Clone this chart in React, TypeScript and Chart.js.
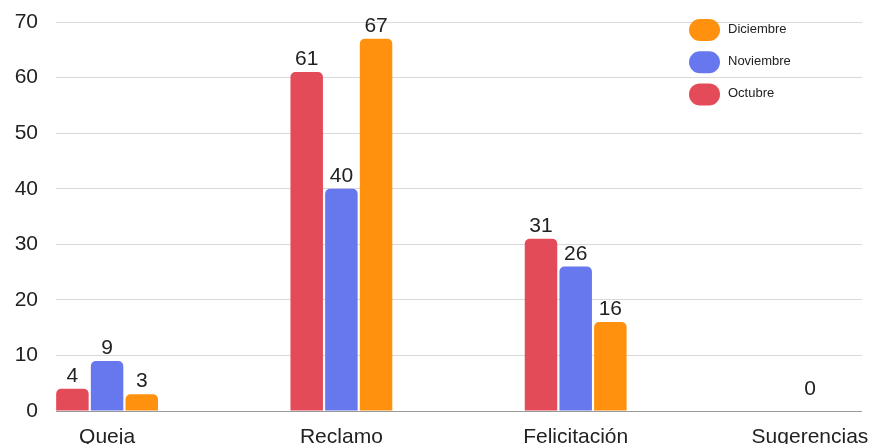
import React, { useEffect, useRef } from "react";
import { Chart, registerables } from "chart.js";

Chart.register(...registerables);

const categories = ["Queja", "Reclamo", "Felicitación", "Sugerencias"];
const seriesNames = ["Octubre", "Noviembre", "Diciembre"];
const octubre: (number | null)[] = [4, 61, 31, null];
const noviembre: (number | null)[] = [9, 40, 26, 0];
const diciembre: (number | null)[] = [3, 67, 16, null];
const seriesColors = ["#E44B58", "#6777EE", "#FF910E"];
const yMin = 0;
const yMax = 70;
const yStep = 10;

const FONT = "'Liberation Sans', Arial, sans-serif";

const valueLabels = {
  id: "valueLabels",
  afterDatasetsDraw(chart: any) {
    const ctx = chart.ctx;
    ctx.save();
    ctx.font = `21px ${FONT}`;
    ctx.fillStyle = "#222222";
    ctx.textAlign = "center";
    ctx.textBaseline = "alphabetic";
    chart.data.datasets.forEach((ds: any, di: number) => {
      const meta = chart.getDatasetMeta(di);
      meta.data.forEach((el: any, i: number) => {
        const raw = ds.data[i];
        if (!raw || raw.y === null || raw.y === undefined) return;
        const gap = raw.y === 0 ? 16 : 7;
        ctx.fillText(String(raw.y), el.x, el.y - gap);
      });
    });
    ctx.restore();
  },
};

const cornerLegend = {
  id: "cornerLegend",
  afterDraw(chart: any) {
    const ctx = chart.ctx;
    const ds = chart.data.datasets.slice().reverse();
    const x0 = chart.chartArea.right - 173;
    const y0 = chart.chartArea.top + 8;
    ctx.save();
    ctx.font = `13px ${FONT}`;
    ctx.textAlign = "left";
    ctx.textBaseline = "middle";
    ds.forEach((d: any, i: number) => {
      const cy = y0 + i * 32.2;
      ctx.fillStyle = d.backgroundColor;
      ctx.beginPath();
      (ctx as any).roundRect(x0, cy - 11, 31, 22, 11);
      ctx.fill();
      ctx.fillStyle = "#222222";
      ctx.fillText(d.label, x0 + 39, cy - 1);
    });
    ctx.restore();
  },
};

export default function App() {
  const ref = useRef<HTMLCanvasElement | null>(null);

  useEffect(() => {
    document.body.style.margin = "0";
    if (!ref.current) return;
    const seriesData = [octubre, noviembre, diciembre];
    const chart = new Chart(ref.current, {
      type: "bar",
      data: {
        datasets: seriesData.map((vals, si) => ({
          label: seriesNames[si],
          data: vals.map((v, i) => ({ x: i, y: v })) as any,
          backgroundColor: seriesColors[si],
          borderWidth: 0,
          borderRadius: { topLeft: 5, topRight: 5, bottomLeft: 0, bottomRight: 0 },
          borderSkipped: "start",
          categoryPercentage: 0.444,
          barPercentage: 0.937,
        })),
      },
      options: {
        animation: false,
        responsive: false,
        layout: { padding: { top: 22, right: 15, left: 0, bottom: 0 } },
        plugins: {
          legend: { display: false },
          tooltip: { enabled: false },
        },
        scales: {
          x: {
            type: "linear",
            offset: false,
            min: -0.218,
            max: 3.222,
            grid: { display: false, drawTicks: false, offset: false },
            border: { display: false },
            afterBuildTicks: (scale: any) => {
              scale.ticks = categories.map((_, i) => ({ value: i }));
            },
            afterFit: (scale: any) => {
              scale.height = 33;
              scale.paddingLeft = 0;
              scale.paddingRight = 0;
            },
            ticks: {
              autoSkip: false,
              maxRotation: 0,
              minRotation: 0,
              padding: 14,
              color: "#222222",
              font: { family: FONT, size: 21 },
              callback: (v: any) => categories[Math.round(Number(v))] ?? "",
            },
          },
          y: {
            min: yMin,
            max: yMax,
            grid: {
              drawTicks: false,
              color: (c: any) => (c.tick && c.tick.value === 0 ? "#9a9a9a" : "#d9d9d9"),
              lineWidth: 1,
            },
            border: { display: false },
            afterFit: (scale: any) => {
              scale.width = 56;
              scale.paddingTop = 0;
              scale.paddingBottom = 0;
            },
            ticks: {
              stepSize: yStep,
              padding: 18,
              color: "#222222",
              font: { family: FONT, size: 21 },
            },
          },
        },
      },
      plugins: [valueLabels, cornerLegend],
    });
    return () => chart.destroy();
  }, []);

  return (
    <div style={{ position: "fixed", left: 0, top: 0, width: 877, height: 444 }}>
      <canvas ref={ref} width={877} height={444} />
    </div>
  );
}
